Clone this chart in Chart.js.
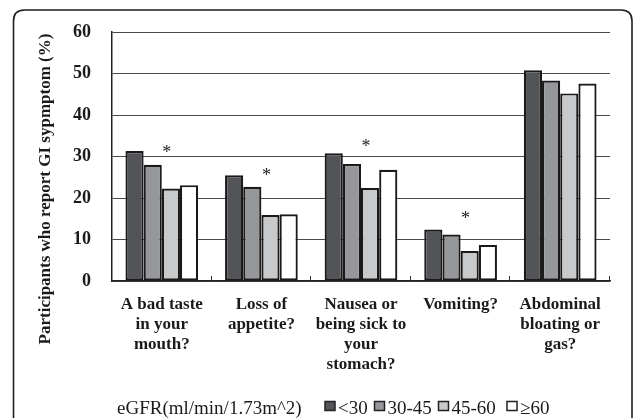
<!DOCTYPE html>
<html>
<head>
<meta charset="utf-8">
<script src="https://cdn.jsdelivr.net/npm/chart.js@4.4.1/dist/chart.umd.min.js"></script>
<style>
html,body{margin:0;padding:0;background:#fff;}
canvas{display:block;}
</style>
</head>
<body>
<canvas id="c" width="634" height="418"></canvas>
<script>
// ---- data ----
const categories = [
  ["A bad taste", "in your", "mouth?"],
  ["Loss of", "appetite?"],
  ["Nausea or", "being sick to", "your", "stomach?"],
  ["Vomiting?"],
  ["Abdominal", "bloating or", "gas?"]
];
const seriesNames = ["<30", "30-45", "45-60", "\u226560"];
const egfrLt30   = [31.3, 25.5, 30.8, 12.4, 50.8];
const egfr30to45 = [28.0, 22.7, 28.2, 11.2, 48.3];
const egfr45to60 = [22.3, 15.9, 22.4, 7.2, 45.2];
const egfrGe60   = [23.1, 16.1, 26.8, 8.7, 47.6];
const significanceMarks = ["*", "*", "*", "*", ""];
const markLevels = [31.8, 26.3, 33.3, 15.9, null];
const yTicks = [0, 10, 20, 30, 40, 50, 60];
const yTitle = "Participants who report GI sypmptom (%)";
const legendTitle = "eGFR(ml/min/1.73m^2)";

const colors = ["#535457", "#96979a", "#c8c9cb", "#ffffff"];
const serif = "'Liberation Serif', 'Times New Roman', serif";

const decor = {
  id: 'decor',
  beforeDraw(chart) {
    const ctx = chart.ctx;
    ctx.save();
    ctx.fillStyle = '#fff';
    ctx.fillRect(0, 0, chart.width, chart.height);
    // rounded outer frame
    const x0 = 13.5, y0 = 10, x1 = 632, y1 = 440, r = 11;
    ctx.beginPath();
    ctx.moveTo(x0 + r, y0);
    ctx.lineTo(x1 - r, y0);
    ctx.quadraticCurveTo(x1, y0, x1, y0 + r);
    ctx.lineTo(x1, y1);
    ctx.lineTo(x0, y1);
    ctx.lineTo(x0, y0 + r);
    ctx.quadraticCurveTo(x0, y0, x0 + r, y0);
    ctx.lineWidth = 1.6;
    ctx.strokeStyle = '#1e1e1e';
    ctx.stroke();
    ctx.restore();
  },
  afterDatasetsDraw(chart) {
    const ctx = chart.ctx;
    const xs = chart.scales.x, ys = chart.scales.y;
    const ca = chart.chartArea;
    ctx.save();
    // inside tick marks at category boundaries
    const half = (xs.getPixelForValue(1) - xs.getPixelForValue(0)) / 2;
    ctx.strokeStyle = '#333';
    ctx.lineWidth = 1;
    for (let i = 0; i < categories.length; i++) {
      const bx = Math.round(xs.getPixelForValue(i) + half) - 0.5;
      ctx.beginPath();
      ctx.moveTo(bx, ca.bottom);
      ctx.lineTo(bx, ca.bottom - 5);
      ctx.stroke();
    }
    // significance asterisks
    ctx.fillStyle = '#222';
    ctx.font = "18px " + serif;
    ctx.textAlign = 'center';
    ctx.textBaseline = 'middle';
    for (let i = 0; i < categories.length; i++) {
      if (!significanceMarks[i] || markLevels[i] == null) continue;
      const px = xs.getPixelForValue(i) + 5;
      const py = ys.getPixelForValue(markLevels[i]);
      ctx.fillText(significanceMarks[i], px, py + 4);
    }
    ctx.restore();
  },
  afterDraw(chart) {
    const ctx = chart.ctx;
    ctx.save();
    // y axis title
    ctx.translate(46, 189);
    ctx.rotate(-Math.PI / 2);
    ctx.fillStyle = '#1a1a1a';
    ctx.font = "bold 17px " + serif;
    ctx.textAlign = 'center';
    ctx.textBaseline = 'middle';
    ctx.fillText(yTitle, 0, 0);
    ctx.restore();

    // legend
    ctx.save();
    ctx.font = "19px " + serif;
    ctx.fillStyle = '#1a1a1a';
    ctx.textAlign = 'left';
    ctx.textBaseline = 'alphabetic';
    const base = 414;
    ctx.fillText(legendTitle, 117, base);
    const itemX = [325, 374.5, 438.5, 507];
    for (let i = 0; i < seriesNames.length; i++) {
      const bx = itemX[i];
      ctx.fillStyle = colors[i];
      ctx.fillRect(bx, 401.5, 10, 9);
      ctx.strokeStyle = '#222';
      ctx.lineWidth = 1.5;
      ctx.strokeRect(bx, 401.5, 10, 9);
      ctx.fillStyle = '#1a1a1a';
      ctx.fillText(seriesNames[i], bx + 13, base);
    }
    ctx.restore();
  }
};

const makeDs = (label, data, i) => ({
  label, data,
  backgroundColor: colors[i],
  borderColor: '#1a1a1a',
  borderWidth: 2.2,
  borderSkipped: false,
  categoryPercentage: 0.73,
  barPercentage: 1.0
});

new Chart(document.getElementById('c'), {
  type: 'bar',
  data: {
    labels: categories,
    datasets: [
      makeDs(seriesNames[0], egfrLt30, 0),
      makeDs(seriesNames[1], egfr30to45, 1),
      makeDs(seriesNames[2], egfr45to60, 2),
      makeDs(seriesNames[3], egfrGe60, 3)
    ]
  },
  options: {
    responsive: false,
    devicePixelRatio: 1,
    animation: false,
    layout: { padding: { left: 0, right: 24, top: 32, bottom: 0 } },
    plugins: { legend: { display: false }, tooltip: { enabled: false } },
    scales: {
      x: {
        grid: { display: false },
        border: { display: true, color: '#222', width: 1.5 },
        ticks: {
          color: '#1a1a1a',
          font: { family: serif, size: 17, weight: 'bold', lineHeight: 20 / 17 },
          maxRotation: 0, minRotation: 0, autoSkip: false,
          padding: 6
        },
        afterFit(scale) { scale.height = 137; }
      },
      y: {
        min: 0, max: 60,
        afterBuildTicks(scale) { scale.ticks = yTicks.map(v => ({ value: v })); },
        grid: { color: '#4a4a4a', lineWidth: 1, drawTicks: false },
        border: { display: true, color: '#222', width: 1.5 },
        ticks: {
          color: '#1a1a1a',
          font: { family: serif, size: 18, weight: 'bold' },
          padding: 21
        },
        afterFit(scale) { scale.width = 112; }
      }
    }
  },
  plugins: [decor]
});
</script>
</body>
</html>
